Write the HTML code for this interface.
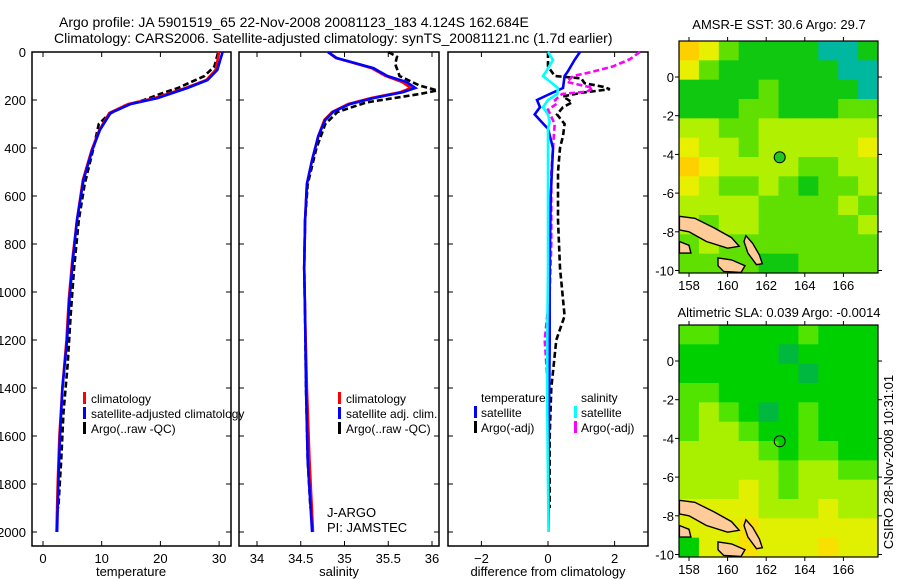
<!DOCTYPE html>
<html><head><meta charset="utf-8"><style>
body{margin:0;background:#fff;}
svg{display:block;font-family:"Liberation Sans",sans-serif;}
</style></head><body>
<svg id="fig" width="900" height="580" viewBox="0 0 900 580" xmlns="http://www.w3.org/2000/svg">
<text x="59" y="27" font-size="14">Argo profile: JA 5901519_65 22-Nov-2008 20081123_183 4.124S 162.684E</text>
<text x="54" y="43" font-size="14">Climatology: CARS2006. Satellite-adjusted climatology: synTS_20081121.nc (1.7d earlier)</text>
<text x="779" y="29" font-size="13" text-anchor="middle">AMSR-E SST: 30.6 Argo: 29.7</text>
<text x="779" y="317" font-size="13" text-anchor="middle">Altimetric SLA: 0.039 Argo: -0.0014</text>
<text transform="translate(893,462) rotate(-90)" font-size="13" text-anchor="middle">CSIRO 28-Nov-2008 10:31:01</text>
<g id="plots"></g>
</svg>
<script>
// ---------- data ----------
const depthAxisTicks = [0,200,400,600,800,1000,1200,1400,1600,1800,2000];
const tempTicks = [0,10,20,30];
const salTicks = [34,34.5,35,35.5,36];
const diffTicks = [-2,0,2];
const lonTicks = [158,160,162,164,166];
const latTicks = [0,-2,-4,-6,-8,-10];

const tDepth = [0,75,117,150,192,217,254,325,408,533,700,867,1033,1200,1400,1600,1800,2000];
const tempSat = [30.6,29.7,28.0,24.6,19.5,14.9,11.5,9.7,8.4,6.9,5.8,5.1,4.5,4.1,3.3,2.9,2.6,2.4];
const tempClim = [30.0,29.4,27.8,24.3,19.0,14.5,11.3,9.6,8.3,6.8,5.8,5.0,4.4,4.0,3.3,2.8,2.5,2.3];
const argoDepth = [5,60,100,150,170,200,225,260,300,400,550,700,900,1100,1300,1500,1700,1900];
const tempArgo = [29.8,29.2,27.5,23.0,20.5,17.2,13.8,11.2,9.5,8.6,7.1,6.1,5.3,4.7,4.2,3.5,3.1,2.6];

const sDepth = [0,25,40,67,100,125,150,167,192,217,250,283,350,450,550,700,900,1100,1400,1700,2000];
const salSat = [34.81,34.91,35.06,35.33,35.49,35.71,35.81,35.67,35.33,35.06,34.87,34.78,34.70,34.63,34.57,34.55,34.54,34.55,34.56,34.58,34.63];
const salClim = [34.81,34.90,35.05,35.31,35.47,35.66,35.76,35.64,35.30,35.04,34.86,34.77,34.70,34.63,34.57,34.55,34.54,34.55,34.57,34.60,34.64];
const salArgoDepth = [0,20,50,100,140,160,175,190,210,250,300,400,550,700,900,1100,1400,1700,1900];
const salArgo = [35.50,35.60,35.58,35.63,35.86,36.06,35.86,35.60,35.25,34.92,34.78,34.68,34.58,34.55,34.54,34.55,34.56,34.58,34.61];

const dDepth = [0,33,80,100,150,175,200,230,260,290,320,400,600,900,1200,1500,1800,2000];
const dTempSat = [0.96,0.8,0.6,0.5,0.45,0.05,-0.33,-0.24,-0.4,-0.2,0.0,0.15,0.08,0.05,0.05,0.03,0.02,0.02];
const dSalSat = [0.0,0.15,-0.05,-0.15,0.3,0.28,0.0,-0.15,0.0,0.05,0.0,0.0,0.0,0.0,-0.02,-0.02,0.0,0.02];
const dArgoDepth = [0,60,100,110,130,145,155,170,185,210,230,260,300,350,400,500,700,900,1100,1200,1400,1600,1900];
const dTempArgo = [0.0,0.0,0.2,1.0,1.1,1.65,1.86,1.0,0.45,0.72,0.45,0.27,0.5,0.45,0.36,0.3,0.3,0.36,0.5,0.25,0.1,0.05,0.05];
const dSalArgoDepth = [0,30,60,85,100,125,140,150,165,175,200,215,240,300,500,800,1000,1200,1400];
const dSalArgo = [2.76,2.46,1.95,1.26,0.75,0.57,1.05,1.35,1.17,0.42,0.21,0.27,0.0,0.2,0.1,0.1,0.05,-0.1,0.0];

// map grids (colour class per 1-degree cell, rows north->south)
const sstGrid = [
[5,4,2,1,1,1,1,0,0,1],[4,2,1,1,1,1,1,1,0,0],[1,1,1,1,2,1,1,1,1,0],[1,1,1,2,2,1,1,1,2,2],
[3,3,2,2,3,3,3,3,3,3],[4,3,3,2,3,3,3,3,3,4],[5,4,3,3,3,3,2,2,3,3],[4,3,2,2,3,2,1,2,2,3],
[3,3,3,3,2,2,2,2,3,2],[3,2,3,3,2,2,2,2,2,3],[2,3,2,2,2,2,2,2,2,2],[2,2,2,2,1,1,2,2,2,2]];
const slaGrid = [
[2,2,1,1,1,1,2,1,1,1],[1,1,1,1,1,0,1,1,1,1],[1,1,1,1,1,1,0,1,1,1],[2,2,1,1,1,1,1,1,1,1],
[2,3,2,1,0,1,2,1,1,1],[2,3,3,2,1,1,2,1,1,1],[3,3,3,3,2,1,2,2,1,1],[3,3,3,3,3,2,3,3,2,2],
[3,3,3,4,3,2,3,3,3,3],[4,4,4,4,3,3,3,4,3,3],[4,4,4,5,4,4,4,4,4,4],[1,4,4,5,4,4,4,5,4,4]];
const argoLon = 162.7, argoLat = -4.15;

// ---------- drawing ----------
const NS='http://www.w3.org/2000/svg';
const root=document.getElementById('plots');
function mk(tag,attrs,parent){const e=document.createElementNS(NS,tag);for(const k in attrs)e.setAttribute(k,attrs[k]);(parent||root).appendChild(e);return e;}
const yD = d => 52 + d*0.24;
const xT = v => 43 + v*5.87;
const xS = v => 257 + (v-34)*87.5;
const xDf = v => 548 + v*33.3;

function frame(x0,x1,y0,y1,name){
  const r=mk('rect',{x:x0,y:y0,width:x1-x0,height:y1-y0,fill:'none',stroke:'#000','stroke-width':1.5});
  
  
}
function line(xs,ds,xf,color,name,dash){
  let p=xs.map((v,i)=>(i?'L':'M')+xf(v).toFixed(1)+','+yD(ds[i]).toFixed(1)).join('');
  const a={d:p,fill:'none',stroke:color,'stroke-width':2.6};
  if(dash)a['stroke-dasharray']=dash;
  const e=mk('path',a);
  
  
}
function xticks(ticks,xf,y0,y1,lblName){
  ticks.forEach(t=>{
    const x=xf(t);
    mk('line',{x1:x,x2:x,y1:y1,y2:y1-5,stroke:'#000'});
    mk('line',{x1:x,x2:x,y1:y0,y2:y0+5,stroke:'#000'});
    const tx=mk('text',{x:x,y:y1+17,'font-size':13,'text-anchor':'middle'});
    tx.textContent=(t<0?'\u2212':'')+Math.abs(t);
    
    
  });
}
function yticks(x0,x1){
  depthAxisTicks.forEach(d=>{const y=yD(d);
    mk('line',{x1:x0,x2:x0+5,y1:y,y2:y,stroke:'#000'});
    mk('line',{x1:x1,x2:x1-5,y1:y,y2:y,stroke:'#000'});});
}
function txt(x,y,s,name,size,anchor){
  const t=mk('text',{x:x,y:y,'font-size':size||12,'text-anchor':anchor||'start'});
  t.textContent=s;
  
  
}
function legendBar(x,y,color,name){
  const r=mk('rect',{x:x,y:y-6,width:3,height:12,fill:color});
  
  
}

// panel 1 temperature
const Y0=52,Y1=546;
frame(32,231,Y0,Y1,'temperature-panel');
yticks(32,231);
depthAxisTicks.forEach(d=>txt(26,yD(d)+5,String(d),'depth-tick-label',13,'end'));
xticks(tempTicks,xT,Y0,Y1,'temperature-tick-label');
line(tempArgo,argoDepth,xT,'#000','argo-temperature-line','6,3');
line(tempClim,tDepth,xT,'#f00','clim-temperature-line');
line(tempSat,tDepth,xT,'#00f','sat-temperature-line');
txt(131,576,'temperature','temperature-axis-title',13,'middle');
legendBar(83,398,'#f00','legend-clim-swatch');txt(91,403,'climatology','legend-clim');
legendBar(83,413,'#00f','legend-sat-swatch');txt(91,418,'satellite-adjusted climatology','legend-sat');
legendBar(83,428,'#000','legend-argo-swatch');txt(91,433,'Argo(..raw -QC)','legend-argo');

// panel 2 salinity
frame(239,439,Y0,Y1,'salinity-panel');
yticks(239,439);
xticks(salTicks,xS,Y0,Y1,'salinity-tick-label');
line(salArgo,salArgoDepth,xS,'#000','argo-salinity-line','6,3');
line(salClim,sDepth,xS,'#f00','clim-salinity-line');
line(salSat,sDepth,xS,'#00f','sat-salinity-line');
txt(339,576,'salinity','salinity-axis-title',13,'middle');
legendBar(338,398,'#f00','legend2-clim-swatch');txt(346,403,'climatology','legend2-clim');
legendBar(338,413,'#00f','legend2-sat-swatch');txt(346,418,'satellite adj. clim.','legend2-sat');
legendBar(338,428,'#000','legend2-argo-swatch');txt(346,433,'Argo(..raw -QC)','legend2-argo');
txt(327,517,'J-ARGO','j-argo-label',13);
txt(327,532,'PI: JAMSTEC','pi-label',13);

// panel 3 differences
frame(448,648,Y0,Y1,'difference-panel');
yticks(448,648);
xticks(diffTicks,xDf,Y0,Y1,'difference-tick-label');
line(dTempArgo,dArgoDepth,xDf,'#000','argo-temp-diff-line','6,3');
line(dSalArgo,dSalArgoDepth,xDf,'#f0f','argo-sal-diff-line','6,3');
line(dTempSat,dDepth,xDf,'#00f','sat-temp-diff-line');
line(dSalSat,dDepth,xDf,'#0ff','sat-sal-diff-line');
txt(548,576,'difference from climatology','difference-axis-title',13,'middle');
txt(481,402,'temperature','legend3-temp-header');
legendBar(474,412,'#00f','legend3-sat-t-swatch');txt(481,417,'satellite','legend3-sat-t');
legendBar(474,427,'#000','legend3-argo-t-swatch');txt(481,432,'Argo(-adj)','legend3-argo-t');
txt(581,402,'salinity','legend3-sal-header');
legendBar(574,412,'#0ff','legend3-sat-s-swatch');txt(581,417,'satellite','legend3-sat-s');
legendBar(574,427,'#f0f','legend3-argo-s-swatch');txt(581,432,'Argo(-adj)','legend3-argo-s');

// maps
const sstPal=['#00b8a0','#10c810','#60e000','#b0f000','#e8f000','#ffd000'];
const slaPal=['#00b840','#00d000','#50e400','#a8f000','#e0f000','#f8e000'];
const islands=[
 [[157.5,-7.2],[158.3,-7.3],[159.3,-7.8],[160.2,-8.3],[160.6,-8.75],[160.0,-8.85],[158.9,-8.5],[158.0,-8.0],[157.5,-7.9]],
 [[159.5,-9.35],[160.2,-9.45],[160.9,-9.75],[160.7,-10.1],[159.8,-10.05],[159.5,-9.75]],
 [[160.95,-8.2],[161.3,-8.6],[161.65,-9.2],[161.8,-9.65],[161.5,-9.7],[161.05,-9.1],[160.85,-8.5]],
 [[157.5,-8.5],[158.0,-8.7],[158.1,-9.1],[157.5,-9.1]]
];
function drawMap(grid,pal,top,lat0y,fillCircle,name){
  const x0=679,x1=878,y1=top+232;
  const g=mk('g',{});
  
  
  const lonX=l=>689+(l-158)*19.3, latY=l=>lat0y-l*19.35;
  const cw=(x1-x0)/grid[0].length, ch=(y1-top)/grid.length;
  grid.forEach((row,r)=>row.forEach((c,i)=>{
    const cell=mk('rect',{x:x0+i*cw,y:top+r*ch,width:cw+0.5,height:ch+0.5,fill:pal[c]},g);
    
    
  }));
  islands.forEach(poly=>{
    const isl=mk('polygon',{points:poly.map(p=>lonX(p[0]).toFixed(1)+','+latY(p[1]).toFixed(1)).join(' '),fill:'#ffcc99',stroke:'#000','stroke-width':1.4},g);
    
    
  });
  const c=mk('circle',{cx:lonX(argoLon),cy:latY(argoLat),r:5.5,fill:fillCircle,stroke:'#000'},g);
  
  
  mk('rect',{x:x0,y:top,width:x1-x0,height:y1-top,fill:'none',stroke:'#000','stroke-width':1.2},g);
  lonTicks.forEach(l=>{const x=lonX(l);
    mk('line',{x1:x,x2:x,y1:y1,y2:y1+4,stroke:'#000'},g);
    mk('line',{x1:x,x2:x,y1:top,y2:top-4,stroke:'#000'},g);
    const t=mk('text',{x:x,y:y1+17,'font-size':13,'text-anchor':'middle'},g);t.textContent=l;
    
    });
  latTicks.forEach(l=>{const y=latY(l);
    mk('line',{x1:x0,x2:x0-4,y1:y,y2:y,stroke:'#000'},g);
    mk('line',{x1:x1,x2:x1+4,y1:y,y2:y,stroke:'#000'},g);
    const t=mk('text',{x:x0-5,y:y+5,'font-size':13,'text-anchor':'end'},g);t.textContent=(l<0?'-':'')+Math.abs(l);
    
    });
}
drawMap(sstGrid,sstPal,41,77,'#20c820','sst-map');
drawMap(slaGrid,slaPal,325,361,'none','sla-map');
</script>
</body></html>
